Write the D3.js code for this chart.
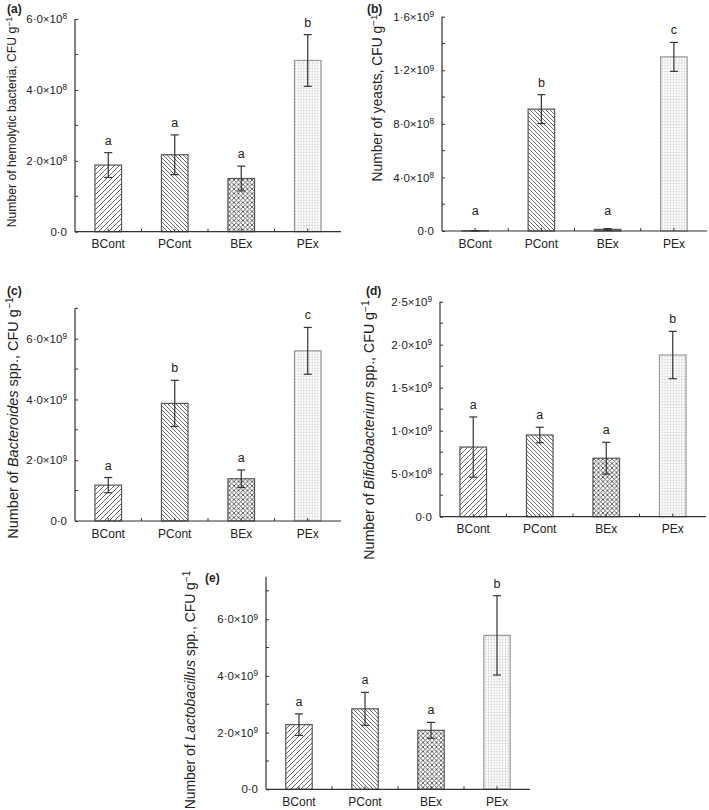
<!DOCTYPE html>
<html>
<head>
<meta charset="utf-8">
<script src="https://cdn.jsdelivr.net/npm/d3@7"></script>
<style>
  html, body { margin: 0; padding: 0; background: #fff; }
  svg { display: block; }
  text { font-family: "Liberation Sans", Arial, Helvetica, sans-serif; fill: #222; }
</style>
</head>
<body>
<svg id="chart" width="709" height="810"></svg>
<script>
// ---------------- DATA ----------------
const categories = ["BCont", "PCont", "BEx", "PEx"];

// (a) hemolytic bacteria
const hemolyticMean = [1.88e8, 2.17e8, 1.50e8, 4.83e8];
const hemolyticErr = [0.35e8, 0.56e8, 0.35e8, 0.73e8];
const hemolyticLetters = ["a", "a", "a", "b"];
const hemolyticTicks = [0, 2e8, 4e8, 6e8];
const hemolyticMinor = [1e8, 3e8, 5e8];
const hemolyticTickLabels = ["0·0", "2·0×10^8", "4·0×10^8", "6·0×10^8"];

// (b) yeasts
const yeastMean = [2e6, 9.1e8, 1.2e7, 1.30e9];
const yeastErr = [1e6, 1.08e8, 0.6e7, 1.08e8];
const yeastLetters = ["a", "b", "a", "c"];
const yeastTicks = [0, 4e8, 8e8, 1.2e9, 1.6e9];
const yeastMinor = [2e8, 6e8, 1.0e9, 1.4e9];
const yeastTickLabels = ["0·0", "4·0×10^8", "8·0×10^8", "1·2×10^9", "1·6×10^9"];

// (c) Bacteroides spp.
const bacteroidesMean = [1.18e9, 3.87e9, 1.39e9, 5.60e9];
const bacteroidesErr = [0.25e9, 0.76e9, 0.29e9, 0.77e9];
const bacteroidesLetters = ["a", "b", "a", "c"];
const bacteroidesTicks = [0, 2e9, 4e9, 6e9];
const bacteroidesMinor = [1e9, 3e9, 5e9, 7e9];
const bacteroidesTickLabels = ["0·0", "2·0×10^9", "4·0×10^9", "6·0×10^9"];

// (d) Bifidobacterium spp.
const bifidoMean = [0.81e9, 0.95e9, 0.68e9, 1.88e9];
const bifidoErr = [0.35e9, 0.09e9, 0.185e9, 0.275e9];
const bifidoLetters = ["a", "a", "a", "b"];
const bifidoTicks = [0, 0.5e9, 1.0e9, 1.5e9, 2.0e9, 2.5e9];
const bifidoMinor = [0.25e9, 0.75e9, 1.25e9, 1.75e9, 2.25e9];
const bifidoTickLabels = ["0·0", "5·0×10^8", "1·0×10^9", "1·5×10^9", "2·0×10^9", "2·5×10^9"];

// (e) Lactobacillus spp.
const lactoMean = [2.28e9, 2.84e9, 2.08e9, 5.43e9];
const lactoErr = [0.38e9, 0.58e9, 0.28e9, 1.40e9];
const lactoLetters = ["a", "a", "a", "b"];
const lactoTicks = [0, 2e9, 4e9, 6e9];
const lactoMinor = [1e9, 3e9, 5e9, 7e9];
const lactoTickLabels = ["0·0", "2·0×10^9", "4·0×10^9", "6·0×10^9"];

// axis titles: [text, italic?]
const hemolyticTitle = [["Number of hemolytic bacteria, CFU g", false]];
const yeastTitle = [["Number of yeasts, CFU g", false]];
const bacteroidesTitle = [["Number of ", false], ["Bacteroides", true], [" spp., CFU g", false]];
const bifidoTitle = [["Number of ", false], ["Bifidobacterium", true], [" spp., CFU g", false]];
const lactoTitle = [["Number of ", false], ["Lactobacillus", true], [" spp., CFU g", false]];

// ---------------- LAYOUT ----------------
const panels = [
  { id: "(a)", mean: hemolyticMean, err: hemolyticErr, letters: hemolyticLetters, ticks: hemolyticTicks, minor: hemolyticMinor, tickLabels: hemolyticTickLabels, title: hemolyticTitle, max: 6e8,
    left: 75, right: 341, y0: 231.7, yTop: 19, titleX: 12, titleY: 122, titleSize: 12.2, labelX: 7, labelY: 13 },
  { id: "(b)", mean: yeastMean, err: yeastErr, letters: yeastLetters, ticks: yeastTicks, minor: yeastMinor, tickLabels: yeastTickLabels, title: yeastTitle, max: 1.6e9,
    left: 442, right: 707, y0: 231, yTop: 16.7, titleX: 377, titleY: 98, titleSize: 13.8, labelX: 367, labelY: 13 },
  { id: "(c)", mean: bacteroidesMean, err: bacteroidesErr, letters: bacteroidesLetters, ticks: bacteroidesTicks, minor: bacteroidesMinor, tickLabels: bacteroidesTickLabels, title: bacteroidesTitle, max: 7e9,
    left: 75, right: 341, y0: 521, yTop: 308.3, titleX: 13, titleY: 418, titleSize: 14.5, labelX: 7, labelY: 295 },
  { id: "(d)", mean: bifidoMean, err: bifidoErr, letters: bifidoLetters, ticks: bifidoTicks, minor: bifidoMinor, tickLabels: bifidoTickLabels, title: bifidoTitle, max: 2.5e9,
    left: 440, right: 706, y0: 516.7, yTop: 301.7, titleX: 369, titleY: 430, titleSize: 14.2, labelX: 366, labelY: 295 },
  { id: "(e)", mean: lactoMean, err: lactoErr, letters: lactoLetters, ticks: lactoTicks, minor: lactoMinor, tickLabels: lactoTickLabels, title: lactoTitle, max: 7.5e9,
    left: 266, right: 530, y0: 789.3, yTop: 576.7, titleX: 190, titleY: 690, titleSize: 13.9, labelX: 205, labelY: 582 }
];

const fills = ["url(#hatchFwd)", "url(#hatchBack)", "url(#cross)", "url(#dots)"];
const strokes = ["#555", "#555", "#555", "#999"];
const lineColor = "#333";

const svg = d3.select("#chart");

// ---------------- PATTERNS ----------------
const defs = svg.append("defs");
const pf = defs.append("pattern").attr("id", "hatchFwd").attr("patternUnits", "userSpaceOnUse").attr("width", 5).attr("height", 5);
pf.append("rect").attr("width", 5).attr("height", 5).attr("fill", "#fff");
pf.append("path").attr("d", "M-1,1 l2,-2 M0,5 l5,-5 M4,6 l2,-2").attr("stroke", "#444").attr("stroke-width", 0.8);

const pb = defs.append("pattern").attr("id", "hatchBack").attr("patternUnits", "userSpaceOnUse").attr("width", 4).attr("height", 4);
pb.append("rect").attr("width", 4).attr("height", 4).attr("fill", "#fff");
pb.append("path").attr("d", "M-1,3 l2,2 M0,0 l4,4 M3,-1 l2,2").attr("stroke", "#444").attr("stroke-width", 0.8);

const pc = defs.append("pattern").attr("id", "cross").attr("patternUnits", "userSpaceOnUse").attr("width", 4.5).attr("height", 4.5);
pc.append("rect").attr("width", 4.5).attr("height", 4.5).attr("fill", "#fff");
pc.append("path").attr("d", "M0,0 L4.5,4.5 M0,4.5 L4.5,0").attr("stroke", "#444").attr("stroke-width", 0.8);

const pd = defs.append("pattern").attr("id", "dots").attr("patternUnits", "userSpaceOnUse").attr("width", 2.8).attr("height", 2.8);
pd.append("rect").attr("width", 2.8).attr("height", 2.8).attr("fill", "#fafafa");
pd.append("circle").attr("cx", 1.4).attr("cy", 1.4).attr("r", 0.6).attr("fill", "#b5b5b5");

// ---------------- DRAW ----------------
function setLabel(sel, label) {
  sel.text(null);
  const parts = label.split("^");
  sel.append("tspan").text(parts[0]);
  if (parts[1]) {
    sel.append("tspan").attr("dy", "-0.45em").attr("font-size", "0.72em").text(parts[1]);
  }
}

panels.forEach(p => {
  const g = svg.append("g");
  const x = d3.scaleBand().domain(categories).range([p.left, p.right]).paddingInner(0.6).paddingOuter(0.3);
  const y = d3.scaleLinear().domain([0, p.max]).range([p.y0, p.yTop]);
  const bw = x.bandwidth();
  const step = x.step();

  // bars
  g.selectAll("rect.bar").data(categories).join("rect")
    .attr("class", "bar")
    .attr("x", d => x(d))
    .attr("width", bw)
    .attr("y", (d, i) => y(p.mean[i]))
    .attr("height", (d, i) => p.y0 - y(p.mean[i]))
    .attr("fill", (d, i) => fills[i])
    .attr("stroke", (d, i) => strokes[i])
    .attr("stroke-width", 1.2);

  // error bars
  const eg = g.selectAll("g.err").data(categories).join("g").attr("class", "err")
    .attr("stroke", lineColor).attr("stroke-width", 1.2);
  eg.append("line")
    .attr("x1", d => x(d) + bw / 2).attr("x2", d => x(d) + bw / 2)
    .attr("y1", (d, i) => y(Math.max(0, p.mean[i] - p.err[i])))
    .attr("y2", (d, i) => y(p.mean[i] + p.err[i]));
  eg.append("line")
    .attr("x1", d => x(d) + bw / 2 - 4).attr("x2", d => x(d) + bw / 2 + 4)
    .attr("y1", (d, i) => y(p.mean[i] + p.err[i])).attr("y2", (d, i) => y(p.mean[i] + p.err[i]));
  eg.append("line")
    .attr("x1", d => x(d) + bw / 2 - 4).attr("x2", d => x(d) + bw / 2 + 4)
    .attr("y1", (d, i) => y(Math.max(0, p.mean[i] - p.err[i]))).attr("y2", (d, i) => y(Math.max(0, p.mean[i] - p.err[i])));

  // significance letters
  g.selectAll("text.sig").data(categories).join("text")
    .attr("class", "sig")
    .attr("x", d => x(d) + bw / 2)
    .attr("y", (d, i) => Math.min(y(p.mean[i] + p.err[i]) - 8, p.y0 - 16))
    .attr("text-anchor", "middle")
    .attr("font-size", 12.5)
    .text((d, i) => p.letters[i]);

  // x axis
  const xAxis = d3.axisBottom(x).tickSizeInner(-3).tickSizeOuter(0).tickPadding(8);
  const xg = g.append("g").attr("transform", `translate(0,${p.y0})`).call(xAxis);
  xg.select(".domain").attr("stroke", lineColor).attr("stroke-width", 1.2)
    .attr("d", `M${p.left},0H${p.right}`);
  xg.selectAll(".tick line").attr("stroke", lineColor).attr("stroke-width", 1);
  xg.selectAll(".tick text").attr("font-size", 12).attr("fill", "#222")
    .attr("font-family", '"Liberation Sans", Arial, sans-serif');
  // boundary ticks
  g.selectAll("line.btick").data(categories.slice(1)).join("line")
    .attr("class", "btick")
    .attr("x1", d => x(d) + bw / 2 - step / 2).attr("x2", d => x(d) + bw / 2 - step / 2)
    .attr("y1", p.y0).attr("y2", p.y0 - 3)
    .attr("stroke", lineColor).attr("stroke-width", 1);

  // y axis
  const yAxis = d3.axisLeft(y).tickValues(p.ticks).tickSizeInner(-3).tickSizeOuter(0).tickPadding(8);
  const yg = g.append("g").attr("transform", `translate(${p.left},0)`).call(yAxis);
  yg.select(".domain").attr("stroke", lineColor).attr("stroke-width", 1.2)
    .attr("d", `M0,${p.y0}V${p.yTop}`);
  yg.selectAll(".tick line").attr("stroke", lineColor).attr("stroke-width", 1);
  yg.selectAll(".tick text").attr("font-size", 11.5).attr("fill", "#222")
    .attr("font-family", '"Liberation Sans", Arial, sans-serif')
    .each(function (d, i) { setLabel(d3.select(this), p.tickLabels[i]); });
  // minor ticks
  g.selectAll("line.minor").data(p.minor).join("line")
    .attr("class", "minor")
    .attr("x1", p.left).attr("x2", p.left + 3)
    .attr("y1", d => y(d)).attr("y2", d => y(d))
    .attr("stroke", lineColor).attr("stroke-width", 1);

  // axis title
  const t = g.append("text")
    .attr("transform", `translate(${p.titleX},${p.titleY}) rotate(-90)`)
    .attr("text-anchor", "middle")
    .attr("dy", "0.35em")
    .attr("font-size", p.titleSize);
  p.title.forEach(([txt, it]) => {
    t.append("tspan").attr("font-style", it ? "italic" : "normal").text(txt);
  });
  t.append("tspan").attr("dy", "-0.45em").attr("font-size", "0.72em").text("−1");

  // panel label
  g.append("text").attr("x", p.labelX).attr("y", p.labelY)
    .attr("font-size", 12).attr("font-weight", "bold").text(p.id);
});
</script>
</body>
</html>
